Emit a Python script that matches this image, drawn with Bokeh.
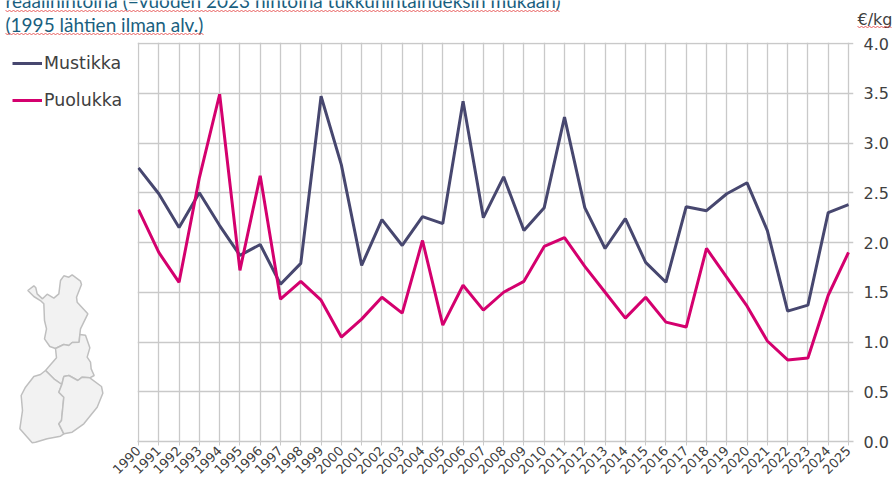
import math
from bokeh.plotting import figure
from bokeh.models import Range1d, FixedTicker, Legend, LegendItem, NumeralTickFormatter
from bokeh.core.properties import value
from bokeh.embed import file_html
from bokeh.resources import INLINE

years = list(range(1990, 2026))
mustikka = [2.75, 2.49, 2.15, 2.50, 2.17, 1.87, 1.98, 1.58, 1.79, 3.47, 2.78, 1.77, 2.23, 1.97, 2.26, 2.19,
            3.42, 2.25, 2.66, 2.12, 2.35, 3.26, 2.35, 1.94, 2.24, 1.80, 1.60, 2.36, 2.32, 2.49, 2.60, 2.12,
            1.31, 1.37, 2.30, 2.38]
puolukka = [2.33, 1.90, 1.60, 2.65, 3.49, 1.72, 2.67, 1.43, 1.61, 1.42, 1.05, 1.23, 1.45, 1.29, 2.02, 1.17,
            1.57, 1.32, 1.50, 1.61, 1.96, 2.05, 1.76, 1.50, 1.24, 1.45, 1.20, 1.15, 1.94, 1.65, 1.36, 1.01,
            0.82, 0.84, 1.47, 1.90]
y_ticks = [0, 0.5, 1, 1.5, 2, 2.5, 3, 3.5, 4]
title_lines = ["reaalihintoina (=vuoden 2023 hintoina tukkuhintaindeksin mukaan)", "(1995 lähtien ilman alv.)"]
unit = "€/kg"

# map regions, traced at 3x from the reference (x, y-260)
north = [(82,90),(100,76),(106,82),(110,100),(126,115),(140,101),(160,113),(175,100),(180,60),(190,46),(205,50),
         (215,43),(240,62),(243,72),(228,110),(230,125),(262,160),(240,205),(238,222),(236,245),(215,246),(205,255),
         (190,252),(165,264),(148,258),(132,235),(138,205),(132,180),(130,130),(122,122),(100,108)]
middle = [(165,264),(190,252),(205,255),(215,246),(236,245),(238,222),(255,224),(268,262),(260,290),(270,305),
          (272,325),(281,345),(268,352),(245,350),(232,360),(205,345),(190,348),(184,372),(160,355),(135,330),(168,292)]
southwest = [(135,330),(160,355),(184,372),(175,395),(190,410),(183,480),(175,490),(190,520),(180,527),(140,535),
             (105,545),(95,547),(58,505),(66,450),(62,405),(75,380),(100,348),(120,342)]
southeast = [(184,372),(190,348),(205,345),(232,360),(245,350),(268,352),(303,378),(307,398),(290,440),(250,490),
             (215,515),(190,520),(175,490),(183,480),(190,410),(175,395)]

W, H = 894, 481
FL, FR, FT, FB = 137, 853, 42, 441
px_x = (848 - 138) / 35
px_y = (441 - 43) / 4
C_M, C_P = "#47476f", "#d4006e"
TEXT = "#404040"
TITLE = "#1a5f7f"
grid_c = "#c9c9c9"

# ---- background layer: title, map, legend, in page pixel coordinates
bg = figure(width=W, height=H, output_backend="svg", toolbar_location=None, x_axis_type=None, y_axis_type=None,
            x_range=Range1d(0, W), y_range=Range1d(H, 0), min_border=0, outline_line_color=None,
            styles={"position": "absolute", "left": "0px", "top": "0px"})
bg.grid.visible = False

for reg in (north, middle, southwest, southeast):
    bg.patch([a / 3 for a, b in reg], [b / 3 + 260 for a, b in reg], fill_color="#f2f2f2",
             line_color="#bfbfbf", line_width=1.5)

def label(text, x, y, size, color, font):
    bg.text([x], [y], text=[text], text_font=value(font), text_font_size=size, text_color=color,
            text_baseline="alphabetic")

label(title_lines[0], 5, -0.5, "19px", TITLE, "Lato")
label(title_lines[1], 5, 23.5, "19px", TITLE, "Lato")
label(unit, 857, 19, "16px", TEXT, "DejaVu Sans")

def squiggle(x0, x1, y):
    xs = [x0 + i * 2 for i in range(int((x1 - x0) / 2) + 1)]
    bg.line(xs, [y + (i % 2) for i in range(len(xs))], line_color="#e23a3a", line_width=0.8)

squiggle(5, 560, 10)
squiggle(5, 203, 33)
squiggle(857, 892, 26)

k1 = bg.line(years, mustikka, line_color=C_M, line_width=3)   # outside this layer's range: legend key only
k2 = bg.line(years, puolukka, line_color=C_P, line_width=3)
legend = Legend(items=[LegendItem(label="Mustikka", renderers=[k1]), LegendItem(label="Puolukka", renderers=[k2])],
                location=(12, H - 110), orientation="vertical", background_fill_alpha=0,
                border_line_color=None, label_text_font="DejaVu Sans", label_text_font_size="17.4px",
                label_text_color=TEXT, glyph_width=30, glyph_height=20, label_standoff=2, spacing=17,
                padding=0, margin=0, label_height=20)
bg.add_layout(legend, "center")

# ---- chart layer
p = figure(width=W, height=H, output_backend="svg", toolbar_location=None, y_axis_location="right",
           x_range=Range1d(1990 - 1 / px_x, 2025 + 5 / px_x), y_range=Range1d(0, 4 + 1 / px_y),
           min_border_left=FL, min_border_right=W - FR, min_border_top=FT, min_border_bottom=H - FB,
           outline_line_color=None, background_fill_alpha=0, border_fill_alpha=0,
           styles={"position": "absolute", "left": "0px", "top": "0px"})

p.xgrid.grid_line_color = grid_c
p.ygrid.grid_line_color = grid_c
p.xgrid.grid_line_width = 1.3
p.ygrid.grid_line_width = 1.3

xa = p.xaxis[0]
xa.ticker = FixedTicker(ticks=years)
xa.major_label_overrides = {y: str(y) for y in years}
xa.major_label_orientation = math.pi / 4
xa.major_label_text_font = "DejaVu Sans"
xa.major_label_text_font_size = "13px"
xa.major_label_text_color = TEXT
xa.major_label_standoff = 3
xa.axis_line_color = grid_c
xa.axis_line_width = 1.3
xa.major_tick_line_color = grid_c
xa.major_tick_in = 0
xa.major_tick_out = 4
xa.minor_tick_line_color = None

ya = p.yaxis[0]
ya.ticker = FixedTicker(ticks=y_ticks)
ya.formatter = NumeralTickFormatter(format="0.0")
ya.major_label_text_font = "DejaVu Sans"
ya.major_label_text_font_size = "16px"
ya.major_label_text_color = TEXT
ya.major_label_standoff = 10
ya.axis_line_color = None
ya.major_tick_in = 0
ya.major_tick_out = 0
ya.minor_tick_in = 0
ya.minor_tick_out = 0

p.line(years, mustikka, line_color=C_M, line_width=3)
p.line(years, puolukka, line_color=C_P, line_width=3)

open("out.html", "w").write(file_html([bg, p], INLINE))
